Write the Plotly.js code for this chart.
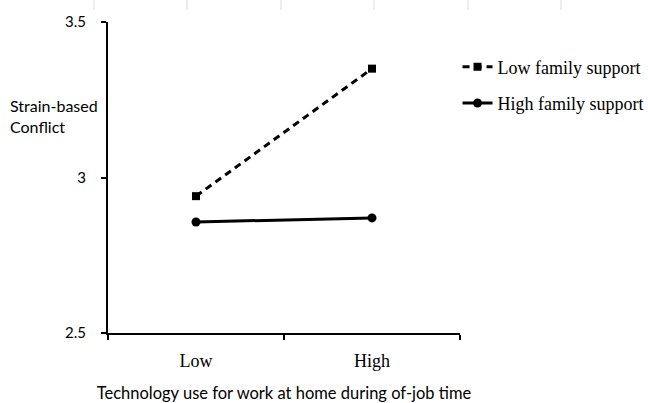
<!DOCTYPE html>
<html>
<head>
<meta charset="utf-8">
<script src="https://cdn.plot.ly/plotly-3.0.1.min.js"></script>
<style>html,body{margin:0;padding:0;background:#fff;}#chart{width:648px;height:403px;}</style>
</head>
<body>
<div id="chart"></div>
<script>
var categories = ["Low", "High"];
var lowSupport = [2.94, 3.35];
var highSupport = [2.857, 2.87];
var seriesNames = ["Low family support", "High family support"];
var yTickVals = [2.5, 3, 3.5];
var yTickText = ["2.5", "3", "3.5"];
var yTitle = "Strain-based<br>Conflict";
var xTitle = "Technology use for work at home during of-job time";

var traces = [
  {x: categories, y: lowSupport, name: seriesNames[0], type: "scatter", mode: "lines+markers",
   line: {color: "#000", width: 3, dash: "7px,5px"}, marker: {symbol: "square", size: 8, color: "#000"},
   legendgroup: "a"},
  {x: categories, y: highSupport, name: seriesNames[1], type: "scatter", mode: "lines+markers",
   line: {color: "#000", width: 3}, marker: {symbol: "circle", size: 9, color: "#000"},
   legendgroup: "b"}
];

var gridX = [94, 187, 281, 374, 468, 561];
var shapes = gridX.map(function (p) {
  var px = (p - 108) / 352;
  return {type: "line", xref: "paper", yref: "paper", x0: px, x1: px, y0: 1.0386, y1: 1.0707,
          line: {color: "#dcdcdc", width: 1}};
});

var layout = {
  width: 648, height: 403,
  margin: {l: 108, r: 188, t: 22, b: 70, autoexpand: false},
  paper_bgcolor: "#fff", plot_bgcolor: "#fff",
  showlegend: true,
  legend: {x: 0.993, y: 0.915, xanchor: "left", yanchor: "top", yref: "paper",
           font: {family: "Liberation Serif, Times New Roman, serif", size: 18, color: "#000"},
           tracegroupgap: 10, itemwidth: 30, bgcolor: "rgba(0,0,0,0)"},
  xaxis: {type: "category", range: [-0.5, 1.5], tickson: "boundaries", automargin: false,
          showline: true, linecolor: "#000", linewidth: 2, ticks: "outside", ticklen: 5, tickcolor: "#000", tickwidth: 2,
          showgrid: false, zeroline: false, ticklabelstandoff: 10,
          tickfont: {family: "Liberation Serif, Times New Roman, serif", size: 18, color: "#000"},
          title: {text: xTitle, font: {family: "Lato, sans-serif", size: 16.5, color: "#000"}, standoff: 19}},
  yaxis: {range: [2.5, 3.5], tickvals: yTickVals, ticktext: yTickText, automargin: false,
          showline: true, linecolor: "#000", linewidth: 2, ticks: "outside", ticklen: 5, tickcolor: "#000", tickwidth: 2,
          showgrid: false, zeroline: false, ticklabelstandoff: 12,
          tickfont: {family: "Lato, sans-serif", size: 15, color: "#000"}},
  annotations: [
    {text: yTitle, xref: "paper", yref: "paper", x: -100 / 352, y: 1 - (94 - 22) / 311,
     xanchor: "left", yanchor: "top", align: "left", showarrow: false,
     font: {family: "Lato, sans-serif", size: 16, color: "#000"}}
  ],
  shapes: shapes
};

Plotly.newPlot("chart", traces, layout, {displayModeBar: false, staticPlot: true});
</script>
</body>
</html>
